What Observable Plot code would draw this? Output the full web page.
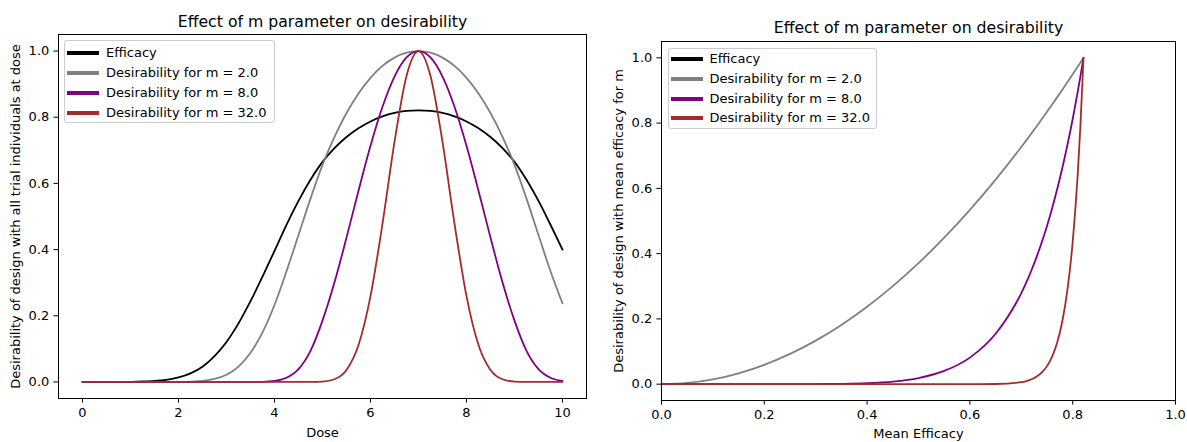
<!DOCTYPE html>
<html><head><meta charset="utf-8">
<script src="https://cdn.jsdelivr.net/npm/d3@7"></script>
<script src="https://cdn.jsdelivr.net/npm/@observablehq/plot@0.6"></script>
<style>
body{margin:0;background:#fff;font-family:"DejaVu Sans",sans-serif;}
#wrap{position:relative;width:1187px;height:442px;overflow:hidden;background:#fff;}
.panel{position:absolute;top:0;}
.legend{position:absolute;border:1px solid #cccccc;border-radius:3px;background:rgba(255,255,255,0.8);font-size:13px;color:#000;box-sizing:border-box;font-family:"DejaVu Sans",sans-serif;}
.legend .row{position:absolute;left:0;height:20px;line-height:20px;white-space:nowrap;}
.legend .sw{position:absolute;left:2px;top:8px;width:32px;height:4px;}
.legend .lab{position:absolute;left:41px;top:0;}
</style></head>
<body><div id="wrap"></div>
<script>
// ---- Left panel data (dose vs efficacy / desirability) ----
const dose = [0,0.25,0.5,0.75,1,1.25,1.5,1.75,2,2.25,2.5,2.75,3,3.25,3.5,3.75,4,4.25,4.5,4.75,5,5.25,5.5,5.75,6,6.25,6.5,6.75,7,7.25,7.5,7.75,8,8.25,8.5,8.75,9,9.25,9.5,9.75,10];
const efficacy = [0.00001,0.00002,0.00005,0.00017,0.0005,0.0013,0.003,0.0066,0.0135,0.026,0.046,0.078,0.121,0.177,0.244,0.318,0.396,0.475,0.547,0.611,0.665,0.7066,0.7401,0.7666,0.7871,0.8023,0.8128,0.819,0.821,0.819,0.8128,0.8023,0.7871,0.7666,0.7401,0.7066,0.665,0.611,0.547,0.475,0.400];
const desM2 = [0,0,0,0,0,0.0000025,0.0000134,0.0000646,0.00027,0.001,0.0031,0.009,0.0217,0.0465,0.0883,0.150,0.2326,0.3347,0.4439,0.5539,0.6561,0.7407,0.8126,0.8719,0.9191,0.955,0.9801,0.9951,1,0.9951,0.9801,0.955,0.9191,0.8719,0.8126,0.7407,0.6561,0.5539,0.4439,0.3347,0.2374];
const desM8 = [0,0,0,0,0,0,0,0,0,0,0,0,0,0.000005,0.00006,0.0005,0.0029,0.0126,0.0388,0.0941,0.1853,0.3011,0.4361,0.5778,0.7137,0.8317,0.9228,0.9807,1,0.9807,0.9228,0.8317,0.7137,0.5778,0.4361,0.3011,0.1853,0.0941,0.0388,0.0126,0.0032];
const desM32 = [0,0,0,0,0,0,0,0,0,0,0,0,0,0,0,0,0,0,0,0.00008,0.0012,0.0082,0.0362,0.1115,0.2594,0.4784,0.7253,0.9249,1,0.9249,0.7253,0.4784,0.2594,0.1115,0.0362,0.0082,0.0012,0.00008,0,0,0];

// ---- Right panel data (mean efficacy vs desirability) ----
const meanEff = [0,0.05,0.1,0.15,0.2,0.25,0.3,0.35,0.4,0.45,0.5,0.55,0.6,0.65,0.7,0.71,0.72,0.73,0.74,0.75,0.76,0.77,0.78,0.79,0.8,0.81,0.815,0.821];
const rDesM2 = [0,0.0037,0.0148,0.0334,0.0593,0.0927,0.1335,0.1817,0.2374,0.3004,0.3709,0.4488,0.5341,0.6268,0.7269,0.7479,0.7691,0.7905,0.8123,0.8345,0.8569,0.8796,0.9027,0.9259,0.9495,0.9734,0.9855,1];
const rDesM8 = [0,0,0,0.000001,0.000012,0.000074,0.00032,0.00109,0.00317,0.00815,0.0189,0.0406,0.0814,0.1544,0.2792,0.3128,0.3499,0.3907,0.4355,0.4850,0.5392,0.5987,0.6639,0.7350,0.8126,0.8977,0.9430,1];
const rDesM32 = [0,0,0,0,0,0,0,0,0,0,0,0.000003,0.000044,0.00057,0.00607,0.0096,0.0150,0.0233,0.0360,0.0553,0.0846,0.1284,0.1943,0.2918,0.4361,0.6494,0.7907,1];

// ---- Labels / ticks ----
const seriesNames = ["Efficacy","Desirability for m = 2.0","Desirability for m = 8.0","Desirability for m = 32.0"];
const seriesColors = ["#000000","#808080","#800080","#a52a2a"];
const titleText = "Effect of m parameter on desirability";
const leftXLabel = "Dose";
const leftYLabel = "Desirability of design with all trial individuals at dose";
const rightXLabel = "Mean Efficacy";
const rightYLabel = "Desirability of design with mean efficacy for m";
const leftXTicks = [0,2,4,6,8,10];
const yTicks = [0,0.2,0.4,0.6,0.8,1.0];
const rightXTicks = [0,0.2,0.4,0.6,0.8,1.0];

const FS = 13, TICK = 4.6, LW = 1.8;
const style = {fontFamily: "DejaVu Sans", fontSize: FS + "px", color: "black", background: "white", overflow: "visible"};

function rows(xs, ys) { return xs.map((x, i) => ({x, y: ys[i]})); }

const leftSeries = [efficacy, desM2, desM8, desM32];
const left = Plot.plot({
  width: 600, height: 442,
  marginLeft: 58, marginRight: 14, marginTop: 34, marginBottom: 44,
  x: {domain: [-0.5, 10.5]},
  y: {domain: [-0.05, 1.05]},
  style,
  marks: [
    Plot.axisX({ticks: leftXTicks, tickFormat: d3.format("d"), tickSize: TICK, tickPadding: TICK, label: leftXLabel, labelAnchor: "center", labelOffset: 38, labelArrow: "none"}),
    Plot.axisY({ticks: yTicks, tickFormat: d3.format(".1f"), tickSize: TICK, tickPadding: TICK, label: leftYLabel, labelAnchor: "center", labelOffset: 48, labelArrow: "none"}),
    ...leftSeries.map((ys, k) => Plot.lineY(rows(dose, ys), {x: "x", y: "y", stroke: seriesColors[k], strokeWidth: LW, curve: "monotone-x"})),
    Plot.frame({stroke: "black", strokeWidth: 1}),
    Plot.text([titleText], {text: d => d, frameAnchor: "top", lineAnchor: "bottom", dy: -7.4, fontSize: 15.7})
  ]
});

const rightSeries = [rDesM2, rDesM8, rDesM32];
const right = Plot.plot({
  width: 587, height: 442,
  marginLeft: 61, marginRight: 12, marginTop: 41, marginBottom: 42,
  x: {domain: [0, 1]},
  y: {domain: [-0.05, 1.05]},
  style,
  marks: [
    Plot.axisX({ticks: rightXTicks, tickFormat: d3.format(".1f"), tickSize: TICK, tickPadding: TICK, label: rightXLabel, labelAnchor: "center", labelOffset: 37.4, labelArrow: "none"}),
    Plot.axisY({ticks: yTicks, tickFormat: d3.format(".1f"), tickSize: TICK, tickPadding: TICK, label: rightYLabel, labelAnchor: "center", labelOffset: 48, labelArrow: "none"}),
    ...rightSeries.map((ys, k) => Plot.lineY(rows(meanEff, ys), {x: "x", y: "y", stroke: seriesColors[k + 1], strokeWidth: LW, curve: "monotone-x"})),
    Plot.frame({stroke: "black", strokeWidth: 1}),
    Plot.text([titleText], {text: d => d, frameAnchor: "top", lineAnchor: "bottom", dy: -8.2, fontSize: 15.7})
  ]
});

const wrap = document.getElementById("wrap");
function place(el, x) { const d = document.createElement("div"); d.className = "panel"; d.style.left = x + "px"; d.appendChild(el); wrap.appendChild(d); }
place(left, 0);
place(right, 600);

function legend(x, y, w, h, firstRow, step) {
  const box = document.createElement("div");
  box.className = "legend";
  Object.assign(box.style, {left: x + "px", top: y + "px", width: w + "px", height: h + "px"});
  seriesNames.forEach((name, i) => {
    const r = document.createElement("div");
    r.className = "row";
    r.style.top = (firstRow + i * step - 10) + "px";
    const sw = document.createElement("div");
    sw.className = "sw"; sw.style.background = seriesColors[i];
    const lab = document.createElement("span");
    lab.className = "lab"; lab.textContent = name;
    r.appendChild(sw); r.appendChild(lab);
    box.appendChild(r);
  });
  wrap.appendChild(box);
}
legend(64, 40, 211, 83, 11.7, 20);
legend(667.5, 47.5, 209.5, 81.5, 10.8, 19.6);
</script>
</body></html>
